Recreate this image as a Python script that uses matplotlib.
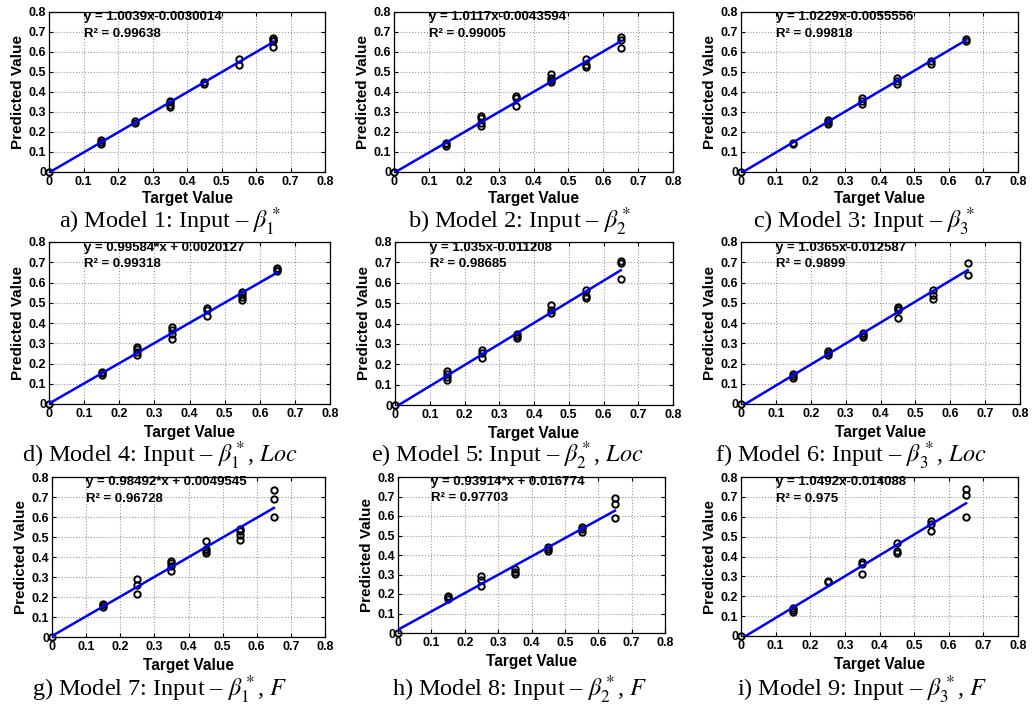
import matplotlib
matplotlib.use("Agg")
import matplotlib.pyplot as plt
import numpy as np

plt.rcParams['mathtext.fontset'] = 'stix'

# ---------------- data ----------------
targets = [0.0, 0.15, 0.25, 0.35, 0.45, 0.55, 0.65]

pred_a = [[0.0], [0.14, 0.15, 0.16], [0.245, 0.255], [0.325, 0.335, 0.35, 0.355],
          [0.44, 0.45], [0.535, 0.565], [0.625, 0.655, 0.665, 0.67]]
pred_b = [[0.0], [0.13, 0.14, 0.145], [0.23, 0.245, 0.27, 0.28], [0.33, 0.37, 0.38],
          [0.45, 0.46, 0.47, 0.49], [0.525, 0.535, 0.565], [0.62, 0.66, 0.675]]
pred_c = [[0.0], [0.14, 0.145], [0.24, 0.25, 0.26], [0.34, 0.355, 0.37],
          [0.44, 0.455, 0.47], [0.54, 0.555], [0.655, 0.665]]
pred_d = [[0.0], [0.145, 0.155, 0.16], [0.24, 0.255, 0.27, 0.28], [0.32, 0.345, 0.365, 0.38],
          [0.435, 0.465, 0.475], [0.515, 0.53, 0.545, 0.555], [0.655, 0.665, 0.67]]
pred_e = [[0.0], [0.125, 0.135, 0.15, 0.165], [0.23, 0.255, 0.27], [0.33, 0.34, 0.35],
          [0.45, 0.465, 0.49], [0.525, 0.535, 0.565], [0.62, 0.695, 0.705]]
pred_f = [[0.0], [0.13, 0.14, 0.15], [0.24, 0.25, 0.26], [0.33, 0.34, 0.35],
          [0.425, 0.465, 0.475, 0.48], [0.52, 0.54, 0.565], [0.635, 0.695]]
pred_g = [[0.0], [0.15, 0.16, 0.165], [0.215, 0.26, 0.29], [0.33, 0.355, 0.37, 0.38],
          [0.42, 0.43, 0.44, 0.48], [0.485, 0.51, 0.53, 0.54], [0.6, 0.69, 0.735]]
pred_h = [[0.0], [0.175, 0.185, 0.19], [0.24, 0.27, 0.29], [0.305, 0.315, 0.33],
          [0.42, 0.43, 0.44], [0.52, 0.535, 0.545], [0.59, 0.66, 0.69]]
pred_i = [[0.0], [0.12, 0.13, 0.14], [0.27, 0.275], [0.31, 0.36, 0.37],
          [0.42, 0.43, 0.47], [0.53, 0.565, 0.58], [0.6, 0.71, 0.74]]
predictions = [pred_a, pred_b, pred_c, pred_d, pred_e, pred_f, pred_g, pred_h, pred_i]

slopes = [1.0039, 1.0117, 1.0229, 0.99584, 1.035, 1.0365, 0.98492, 0.93914, 1.0492]
intercepts = [-0.0030014, -0.0043594, -0.0055556, 0.0020127, -0.011208, -0.012587,
              0.0049545, 0.016774, -0.014088]
eq_labels = ["y = 1.0039x-0.0030014", "y = 1.0117x-0.0043594", "y = 1.0229x-0.0055556",
             "y = 0.99584*x + 0.0020127", "y = 1.035x-0.011208", "y = 1.0365x-0.012587",
             "y = 0.98492*x + 0.0049545", "y = 0.93914*x + 0.016774", "y = 1.0492x-0.014088"]
r2_labels = ["0.99638", "0.99005", "0.99818", "0.99318", "0.98685", "0.9899",
             "0.96728", "0.97703", "0.975"]
captions = [r"a) Model 1: Input – $\beta_1^*$", r"b) Model 2: Input – $\beta_2^*$",
            r"c) Model 3: Input – $\beta_3^*$", r"d) Model 4: Input – $\beta_1^*$, $Loc$",
            r"e) Model 5: Input – $\beta_2^*$, $Loc$", r"f) Model 6: Input – $\beta_3^*$, $Loc$",
            r"g) Model 7: Input – $\beta_1^*$, $F$", r"h) Model 8: Input – $\beta_2^*$, $F$",
            r"i) Model 9: Input – $\beta_3^*$, $F$"]
ticks = [0, 0.1, 0.2, 0.3, 0.4, 0.5, 0.6, 0.7, 0.8]
tick_labels = ["0", "0.1", "0.2", "0.3", "0.4", "0.5", "0.6", "0.7", "0.8"]
x_label = "Target Value"
y_label = "Predicted Value"

# ---------------- layout (pixels) ----------------
W, H = 1033, 706
boxes = [(49, 12, 325, 172), (394, 12, 673, 172), (741, 12, 1018, 172),
         (49, 242, 330, 404), (395, 242, 673, 405), (741, 242, 1020, 404),
         (52, 477, 325, 637), (398, 477, 665, 633), (741, 477, 1018, 636)]
cap_pos = [(170, 229), (519, 229), (864, 229),
           (160, 463), (507, 463), (851, 463),
           (160, 697), (520, 697), (862, 697)]
xlabel_pads = [1.6, 1.6, 1.6, 3, 3, 3, 3, 3, 3]

fig = plt.figure(figsize=(W / 100, H / 100), dpi=100)
sans = 'Liberation Sans'

for k in range(9):
    l, t, r, b = boxes[k]
    ax = fig.add_axes([l / W, 1 - b / H, (r - l) / W, (b - t) / H])
    ax.set_xlim(0, 0.8)
    ax.set_ylim(0, 0.8)
    ax.set_xticks(ticks)
    ax.set_yticks(ticks)
    ax.set_xticklabels(tick_labels, fontfamily=sans, fontweight='bold', fontsize=9)
    ax.set_yticklabels(tick_labels, fontfamily=sans, fontweight='bold', fontsize=9)
    ax.tick_params(direction='in', length=3, width=0.8, top=True, right=True)
    ax.tick_params(axis='x', pad=3.2)
    ax.tick_params(axis='y', pad=2.0)
    ax.grid(True, linestyle=':', color='#999999', linewidth=0.8)
    ax.set_axisbelow(True)
    for s in ax.spines.values():
        s.set_linewidth(0.9)

    xs, ys = [], []
    for tv, plist in zip(targets, predictions[k]):
        for p in plist:
            xs.append(tv)
            ys.append(p)
    ax.plot(xs, ys, linestyle='none', marker='o', markersize=4.6,
            markerfacecolor='none', markeredgecolor='black', markeredgewidth=1.4,
            zorder=3, clip_on=False)
    lx = np.array([0.0, 0.65])
    ax.plot(lx, slopes[k] * lx + intercepts[k], color='#0000ff', linewidth=1.8, zorder=4)

    ax.text(0.1, 0.758, eq_labels[k], fontfamily=sans, fontweight='bold', fontsize=9.5,
            va='baseline', ha='left', clip_on=False)
    ax.text(0.1, 0.675, "R² = " + r2_labels[k], fontfamily=sans, fontweight='bold',
            fontsize=9.5, va='baseline', ha='left')

    ax.set_xlabel(x_label, fontfamily=sans, fontweight='bold', fontsize=11.2,
                  labelpad=xlabel_pads[k])
    ax.set_ylabel(y_label, fontfamily=sans, fontweight='bold', fontsize=11, labelpad=2.5)

    cx, cy = cap_pos[k]
    fig.text(cx / W, 1 - cy / H, captions[k], fontfamily='Liberation Serif', fontsize=17.5,
             ha='center', va='baseline')

fig.savefig("out.png", dpi=100)
